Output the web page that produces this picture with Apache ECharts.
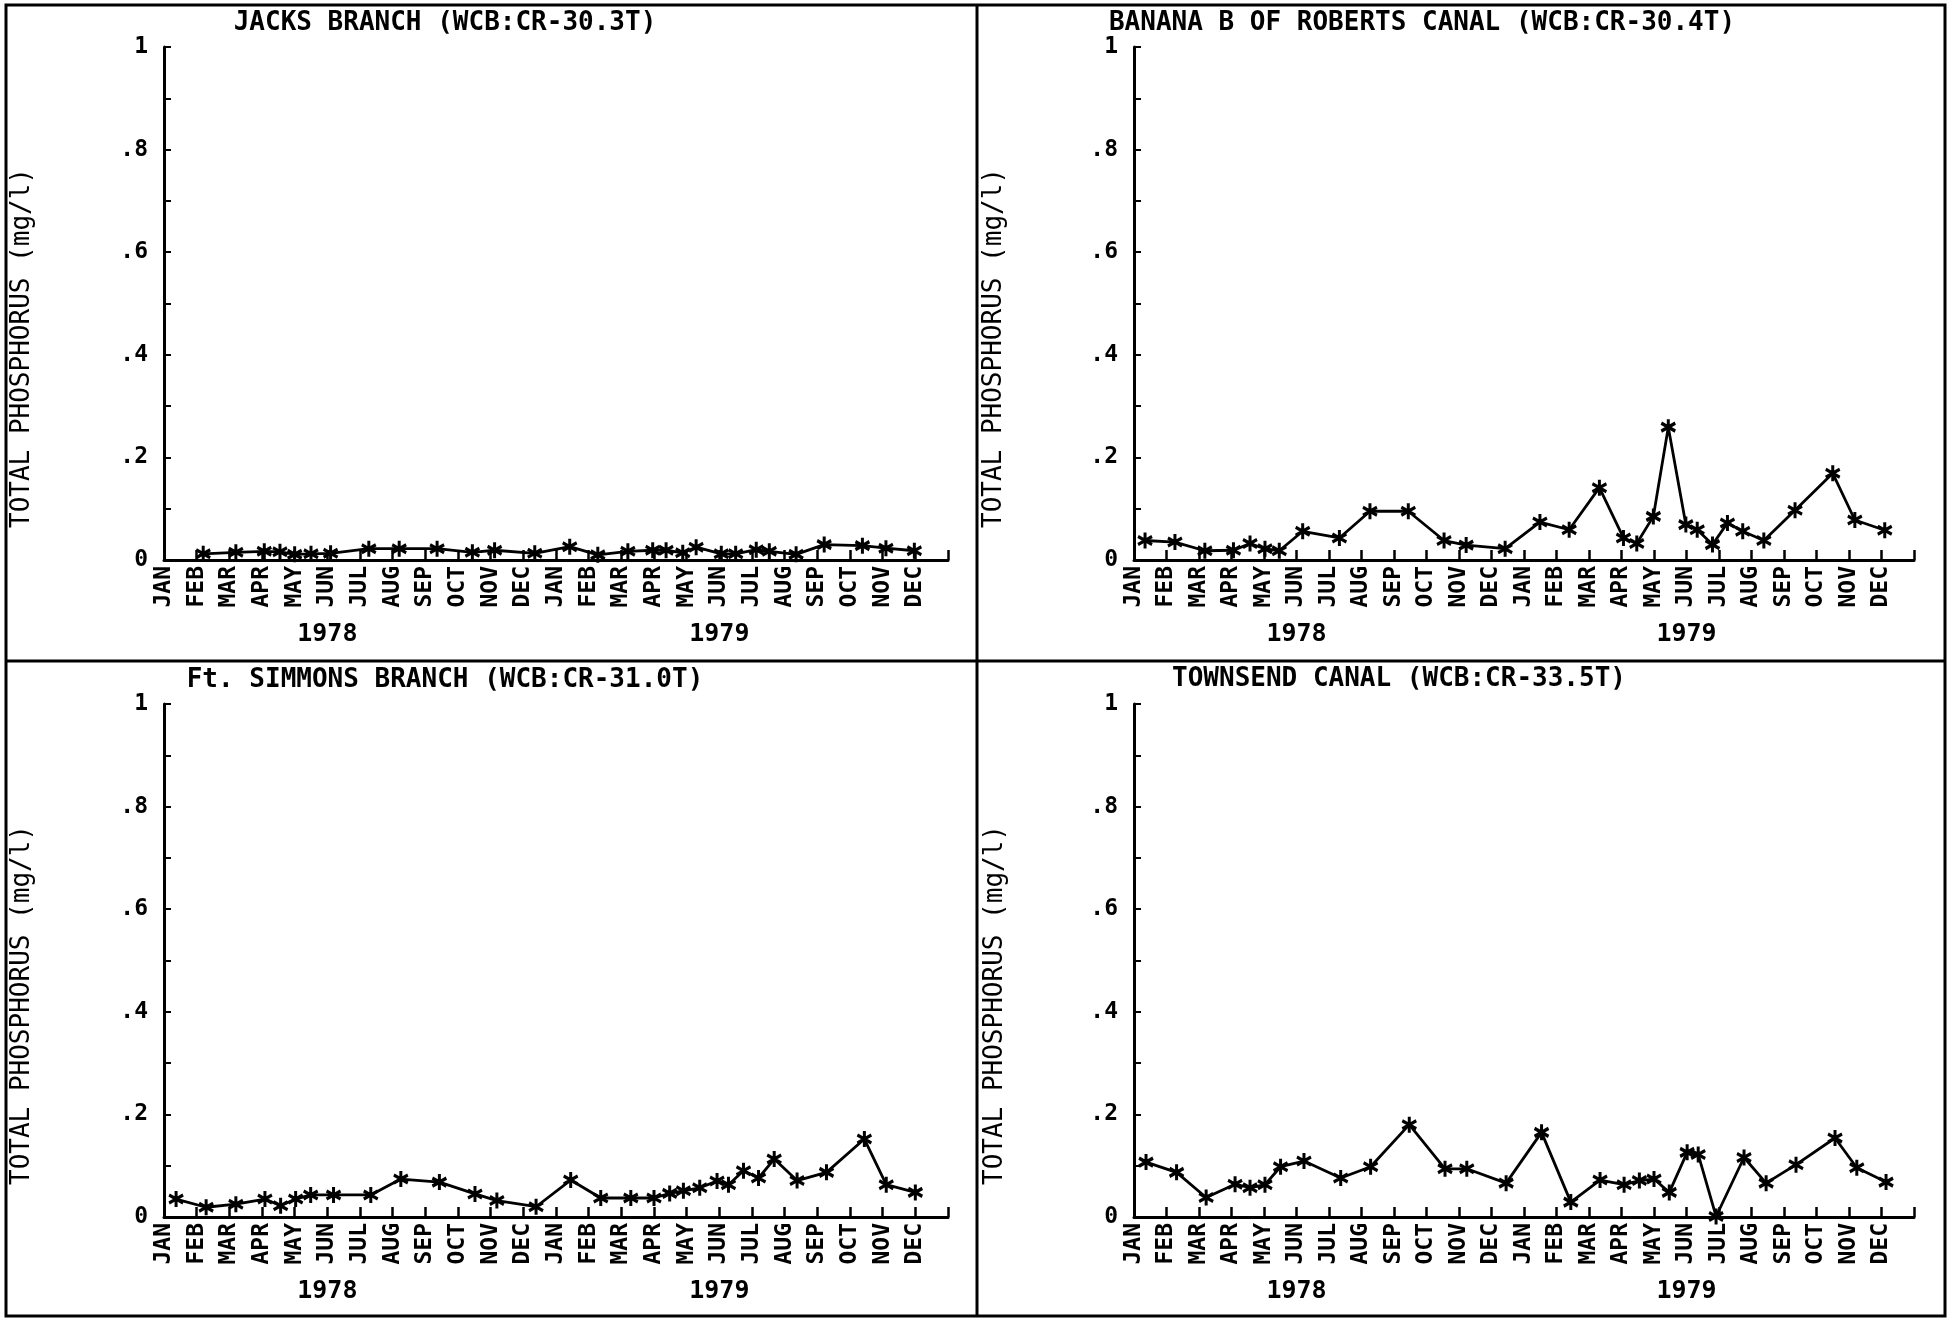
<!DOCTYPE html>
<html><head><meta charset="utf-8">
<script src="https://cdn.jsdelivr.net/npm/echarts@6/dist/echarts.min.js"></script>
<style>html,body{margin:0;padding:0;background:#fff}#c{width:1949px;height:1319px}</style>
</head><body><div id="c"></div>
<script>
// ---- tick labels / text ----
const monthNames = ['JAN','FEB','MAR','APR','MAY','JUN','JUL','AUG','SEP','OCT','NOV','DEC'];
const yearLabels = ['1978','1979'];
const yearLabelMonth = [5, 17];
const yTickLabels = ['0', '.2', '.4', '.6', '.8', '1'];
const yAxisTitle = 'TOTAL PHOSPHORUS (mg/l)';
const panelTitles = [
  'JACKS BRANCH (WCB:CR-30.3T)',
  'BANANA B OF ROBERTS CANAL (WCB:CR-30.4T)',
  'Ft. SIMMONS BRANCH (WCB:CR-31.0T)',
  'TOWNSEND CANAL (WCB:CR-33.5T)'
];

// ---- data: sample time in months since JAN 1978, total phosphorus (mg/l) ----
const jacksMonth = [1.20,2.20,3.07,3.55,4.00,4.50,5.10,6.27,7.20,8.36,9.44,10.12,11.35,12.42,13.28,14.20,14.96,15.37,15.88,16.29,17.06,17.50,18.13,18.53,19.35,20.21,21.38,22.10,22.97];
const jacksTP    = [0.012,0.015,0.017,0.016,0.011,0.012,0.013,0.022,0.022,0.022,0.015,0.019,0.013,0.026,0.010,0.017,0.019,0.019,0.014,0.025,0.012,0.012,0.020,0.017,0.011,0.030,0.028,0.023,0.018];

const bananaMonth = [0.34,1.26,2.18,3.06,3.57,4.03,4.47,5.19,6.32,7.26,8.44,9.54,10.22,11.42,12.49,13.39,14.32,15.06,15.47,15.98,16.44,16.98,17.33,17.80,18.26,18.73,19.38,20.34,21.50,22.18,23.10];
const bananaTP    = [0.038,0.035,0.018,0.019,0.032,0.022,0.018,0.056,0.043,0.095,0.095,0.038,0.029,0.022,0.074,0.059,0.141,0.043,0.032,0.085,0.259,0.069,0.059,0.030,0.072,0.056,0.038,0.097,0.169,0.078,0.058];

const simmonsMonth = [0.37,1.29,2.20,3.09,3.57,4.03,4.49,5.19,6.33,7.25,8.43,9.52,10.19,11.39,12.45,13.37,14.29,15.00,15.48,15.90,16.40,16.93,17.28,17.74,18.20,18.68,19.38,20.28,21.44,22.11,23.00];
const simmonsTP    = [0.035,0.019,0.025,0.035,0.022,0.035,0.043,0.043,0.043,0.074,0.068,0.045,0.032,0.020,0.072,0.037,0.037,0.037,0.046,0.051,0.057,0.070,0.063,0.090,0.076,0.113,0.071,0.087,0.152,0.063,0.048];

const townsendMonth = [0.37,1.31,2.22,3.11,3.57,4.03,4.51,5.23,6.36,7.28,8.47,9.57,10.24,11.45,12.54,13.44,14.34,15.08,15.55,16.00,16.47,17.02,17.36,17.91,18.77,19.45,20.37,21.57,22.24,23.14];
const townsendTP    = [0.107,0.087,0.038,0.064,0.057,0.063,0.098,0.109,0.076,0.098,0.180,0.094,0.094,0.066,0.165,0.029,0.072,0.063,0.071,0.074,0.048,0.126,0.122,0.001,0.116,0.066,0.102,0.154,0.096,0.068];

const seriesMonths = [jacksMonth, bananaMonth, simmonsMonth, townsendMonth];
const seriesValues = [jacksTP, bananaTP, simmonsTP, townsendTP];

// ---- layout ----
const grids = [
  {left: 164,  top: 47,  width: 784, height: 513},
  {left: 1134, top: 47,  width: 780, height: 513},
  {left: 164,  top: 704, width: 784, height: 513},
  {left: 1134, top: 704, width: 780, height: 513}
];
const titlePos = [[445, 23], [1422, 23], [445, 680], [1399, 679]];
const yNamePos = [[22, 348], [994, 348], [22, 1005], [995, 1005]];

const MONO = '"DejaVu Sans Mono", monospace';
const asterisk = 'path://M0,-10L0,10M-8.66,-5L8.66,5M-8.66,5L8.66,-5';

const xAxes = [], yAxes = [], series = [], graphics = [];
grids.forEach((g, i) => {
  xAxes.push({
    gridIndex: i, type: 'value', min: 0, max: 24, interval: 1,
    axisLine: {show: true, lineStyle: {color: '#000', width: 3}},
    axisTick: {show: true, inside: true, length: 10, lineStyle: {color: '#000', width: 2.5}},
    splitLine: {show: false},
    axisLabel: {
      rotate: 90, margin: 6, color: '#000', fontFamily: MONO, fontSize: 23, fontWeight: 'bold',
      showMinLabel: true, showMaxLabel: true,
      formatter: v => (v < 24 ? monthNames[Math.round(v) % 12] : '')
    }
  });
  xAxes.push({
    gridIndex: i, type: 'value', min: 0, max: 24, position: 'bottom',
    axisLine: {show: false}, axisTick: {show: false}, splitLine: {show: false},
    axisLabel: {
      customValues: yearLabelMonth, margin: 62, color: '#000', fontFamily: MONO, fontSize: 25, fontWeight: 'bold',
      formatter: v => yearLabels[yearLabelMonth.indexOf(v)]
    }
  });
  yAxes.push({
    gridIndex: i, type: 'value', min: 0, max: 1, interval: 0.2,
    axisLine: {show: true, lineStyle: {color: '#000', width: 3}},
    axisTick: {show: true, inside: true, length: 7, lineStyle: {color: '#000', width: 2}},
    minorTick: {show: true, splitNumber: 2, length: 7, lineStyle: {color: '#000', width: 2}},
    splitLine: {show: false},
    axisLabel: {
      margin: 16, color: '#000', fontFamily: MONO, fontSize: 23, fontWeight: 'bold',
      formatter: v => yTickLabels[Math.round(v * 5)]
    }
  });
  series.push({
    type: 'line', xAxisIndex: 2 * i, yAxisIndex: i,
    data: seriesMonths[i].map((m, k) => [m, seriesValues[i][k]]),
    symbol: asterisk, symbolSize: [14, 16],
    lineStyle: {color: '#000', width: 2.8},
    itemStyle: {color: '#000', borderColor: '#000', borderWidth: 3.2},
    emphasis: {disabled: true}, animation: false
  });
  graphics.push({
    type: 'text', x: titlePos[i][0], y: titlePos[i][1],
    style: {text: panelTitles[i], align: 'center', verticalAlign: 'middle',
            font: 'bold 26px ' + MONO, fill: '#000'}
  });
  graphics.push({
    type: 'text', x: yNamePos[i][0], y: yNamePos[i][1], rotation: Math.PI / 2,
    style: {text: yAxisTitle, align: 'center', verticalAlign: 'middle',
            font: '26px ' + MONO, fill: '#000'}
  });
});

// frame lines
graphics.push({type: 'rect', shape: {x: 6, y: 5, width: 1939, height: 1311},
  style: {fill: 'none', stroke: '#000', lineWidth: 3}, silent: true});
graphics.push({type: 'line', shape: {x1: 977, y1: 5, x2: 977, y2: 1316},
  style: {stroke: '#000', lineWidth: 3}, silent: true});
graphics.push({type: 'line', shape: {x1: 6, y1: 661, x2: 1945, y2: 661},
  style: {stroke: '#000', lineWidth: 3}, silent: true});

const chart = echarts.init(document.getElementById('c'), null, {renderer: 'canvas'});
chart.setOption({
  backgroundColor: '#fff',
  animation: false,
  grid: grids,
  xAxis: xAxes,
  yAxis: yAxes,
  series: series,
  graphic: graphics
});
</script>
</body></html>
